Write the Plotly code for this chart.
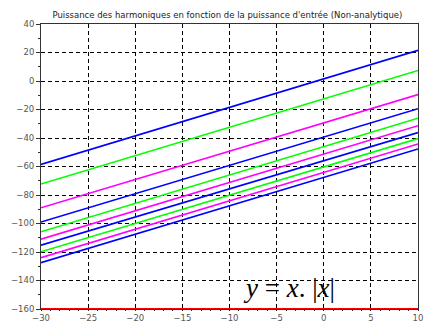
import plotly.graph_objects as go

x_range = [-30, 10]
colors = ["#0000FF", "#00FF00", "#FF00FF", "#0000FF", "#00FF00", "#FF00FF",
          "#0000FF", "#00FF00", "#FF00FF", "#0000FF"]
y_start = [-58.5, -72.3, -89.0, -99.0, -105.8, -111.0, -115.2, -119.8, -124.0, -127.5]
y_end = [21.5, 7.4, -9.5, -19.4, -26.1, -31.4, -36.2, -40.4, -44.2, -47.7]
floor_value = -160

title = "Puissance des harmoniques en fonction de la puissance d'entrée (Non-analytique)"

fig = go.Figure()
for c, a, b in zip(colors, y_start, y_end):
    fig.add_trace(go.Scatter(x=x_range, y=[a, b], mode="lines",
                             line=dict(color=c, width=1.6), showlegend=False))
fig.add_trace(go.Scatter(x=x_range, y=[floor_value, floor_value], mode="lines",
                         line=dict(color="#FF0000", width=2.2), showlegend=False,
                         cliponaxis=False))

fig.add_annotation(x=-3.7, y=-145.5, xref="x", yref="y", showarrow=False,
                   text="<i>y</i> = <i>x</i>. |<i>x</i>|",
                   font=dict(family="Liberation Serif", size=27, color="black"))

axis_common = dict(showgrid=True, gridcolor="black", gridwidth=1, griddash="4px,3px",
                   showline=True, linecolor="#333", linewidth=1, mirror=True,
                   ticks="outside", tickcolor="#333",
                   tickfont=dict(family="DejaVu Sans", size=8.5, color="#555"),
                   zeroline=False, automargin=False, layer="below traces")

fig.update_xaxes(range=x_range, dtick=5, tick0=-30, ticklen=1,
                 minor=dict(dtick=1, ticklen=1, tickcolor="#333", ticks="outside", showgrid=False),
                 **axis_common)
fig.update_yaxes(range=[-160, 40], dtick=20, tick0=-160, ticklen=4,
                 minor=dict(dtick=10, ticklen=2, tickcolor="#333", ticks="outside", showgrid=False),
                 **axis_common)

fig.update_layout(
    width=425, height=325,
    margin=dict(l=41, r=7, t=24, b=16),
    paper_bgcolor="white", plot_bgcolor="white",
    title=dict(text=title, x=0.535, xanchor="center", y=0.955, yanchor="middle",
               font=dict(family="DejaVu Sans", size=8.5, color="#222")),
)

fig.write_html("out.html")
